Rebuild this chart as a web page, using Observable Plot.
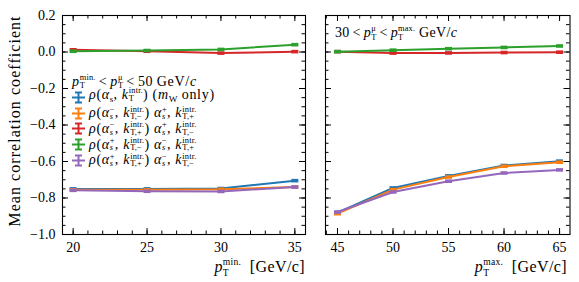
<!DOCTYPE html>
<html><head><meta charset="utf-8">
<script src="https://cdn.jsdelivr.net/npm/d3@7"></script>
<script src="https://cdn.jsdelivr.net/npm/@observablehq/plot@0.6"></script>
<style>
body{margin:0;background:#fff;}
#wrap{position:relative;width:579px;height:282px;font-family:"Liberation Serif",serif;color:#000;overflow:hidden;}
#wrap > svg{position:absolute;top:0;}
.lab{position:absolute;white-space:nowrap;font-size:14px;line-height:1;}
.ss{display:inline-flex;flex-direction:column;font-size:0.6em;line-height:0.9;vertical-align:0.7em;font-style:normal;letter-spacing:0.2px;}
.lab .ss{line-height:1.12;vertical-align:0.75em;}
.ss span{display:block;}
.sb1{font-size:0.66em;vertical-align:-0.3em;font-style:normal;letter-spacing:0;}
.rel{margin:0 3px;}
#legend{position:absolute;left:72px;top:74px;font-size:14px;letter-spacing:0.7px;line-height:15.7px;white-space:nowrap;}
#legend .row{display:flex;align-items:center;height:15.7px;}
#legend svg{margin-right:4px;flex:none;}
</style></head>
<body><div id="wrap"></div>
<script>
// ---- data ----
const ptMin = [20, 25, 30, 35];
const ptMax = [45, 50, 55, 60, 65];
const seriesNames = [
  "rho(as, kT) (mW only)",
  "rho(as-, kT-) as+, kT+",
  "rho(as-, kT+) as+, kT-",
  "rho(as+, kT-) as-, kT+",
  "rho(as+, kT+) as-, kT-"
];
const seriesColors = ["#1f77b4", "#ff7f0e", "#d62728", "#2ca02c", "#9467bd"];
// left panel: vs pT min
const minBlue   = [-0.750, -0.750, -0.748, -0.705];
const minOrange = [-0.755, -0.755, -0.752, -0.740];
const minRed    = [0.012, 0.004, -0.006, 0.002];
const minGreen  = [0.004, 0.008, 0.014, 0.040];
const minPurple = [-0.758, -0.763, -0.764, -0.740];
// right panel: vs pT max
const maxBlue   = [-0.880, -0.745, -0.679, -0.622, -0.598];
const maxOrange = [-0.886, -0.754, -0.685, -0.626, -0.604];
const maxRed    = [0.002, -0.006, -0.005, -0.003, -0.001];
const maxGreen  = [0.002, 0.010, 0.018, 0.025, 0.033];
const maxPurple = [-0.877, -0.767, -0.708, -0.663, -0.646];
const yTicks = [-1.0, -0.8, -0.6, -0.4, -0.2, 0.0, 0.2];
const xTicksMin = [20, 25, 30, 35];
const xTicksMax = [45, 50, 55, 60, 65];

// ---- helpers ----
const H = 282, MT = 15, MB = 48;
const innerH = H - MT - MB;
const yMinor = d3.range(-1.0, 0.2001, 0.05).map(v => +v.toFixed(2));
const capSymbol = {draw(ctx) { ctx.rect(-3.5, -1.8, 7, 3.6); }};

function panel({xs, vals, xDomain, xTicks, width, marginLeft, marginRight, showY}) {
  const innerW = width - marginLeft - marginRight;
  const data = vals.flatMap((v, i) => v.map((y, j) => ({x: xs[j], y, s: seriesNames[i]})));
  const xMinor = d3.range(Math.ceil(xDomain[0]), Math.floor(xDomain[1]) + 1);
  const marks = [
    Plot.axisX(xTicks, {tickSize: 0, tickPadding: 8, label: null, fontSize: 14}),
    // inward ticks, all four sides
    Plot.tickX(xTicks, {x: d => d, insetTop: innerH - 6}),
    Plot.tickX(xTicks, {x: d => d, insetBottom: innerH - 6}),
    Plot.tickX(xMinor, {x: d => d, insetTop: innerH - 3.5}),
    Plot.tickX(xMinor, {x: d => d, insetBottom: innerH - 3.5}),
    Plot.tickY(yTicks, {y: d => d, insetRight: innerW - 6}),
    Plot.tickY(yTicks, {y: d => d, insetLeft: innerW - 6}),
    Plot.tickY(yMinor, {y: d => d, insetRight: innerW - 3.5}),
    Plot.tickY(yMinor, {y: d => d, insetLeft: innerW - 3.5}),
    Plot.line(data, {x: "x", y: "y", z: "s", stroke: "s", strokeWidth: 2}),
    Plot.dot(data, {x: "x", y: "y", fill: "s", symbol: capSymbol, r: 3}),
    Plot.frame({stroke: "black", strokeWidth: 1.1})
  ];
  if (showY) marks.unshift(Plot.axisY(yTicks, {tickSize: 0, tickPadding: 7, label: null, fontSize: 14, tickFormat: d3.format(".1f")}));
  return Plot.plot({
    width, height: H, marginTop: MT, marginBottom: MB, marginLeft, marginRight,
    x: {domain: xDomain},
    y: {domain: [-1.0, 0.2], axis: showY ? undefined : null},
    color: {domain: seriesNames, range: seriesColors},
    style: {fontFamily: "Liberation Serif", fontSize: "14px", background: "transparent", color: "black"},
    marks
  });
}

const wrap = document.getElementById("wrap");
const left = panel({xs: ptMin, vals: [minBlue, minOrange, minRed, minGreen, minPurple],
  xDomain: [19.28, 35.72], xTicks: xTicksMin, width: 315, marginLeft: 62, marginRight: 10, showY: true});
left.style.left = "0px";
const right = panel({xs: ptMax, vals: [maxBlue, maxOrange, maxRed, maxGreen, maxPurple],
  xDomain: [43.92, 65.94], xTicks: xTicksMax, width: 264, marginLeft: 10, marginRight: 9.5, showY: false});
right.style.left = "315px";
wrap.appendChild(left); wrap.appendChild(right);

// ---- text (math) ----
const ss = (sub, sup) => `<span class="ss"><span>${sup}</span><span>${sub}</span></span>`;
const pT = sup => `<i>p</i>${ss("T", sup)}`;
const lt = `<span class="rel">&lt;</span>`;
function addLab(html, css) {
  const d = document.createElement("div");
  d.className = "lab"; d.innerHTML = html; Object.assign(d.style, css); wrap.appendChild(d); return d;
}
addLab("Mean correlation coefficient", {left: "15px", top: "121px", fontSize: "16px", letterSpacing: "1.05px", transform: "translate(-50%,-50%) rotate(-90deg)"});
addLab(`${pT("min.")}&nbsp; [GeV/c]`, {right: `${579 - 305}px`, top: "257px", fontSize: "16px", letterSpacing: "0.4px"});
addLab(`${pT("max.")}&nbsp; [GeV/c]`, {right: `${579 - 567}px`, top: "257px", fontSize: "16px", letterSpacing: "0.4px"});
addLab(`30${lt}${pT("μ")}${lt}${pT("max.")} GeV/<i>c</i>`, {left: "335px", top: "24px", fontSize: "14px", letterSpacing: "0.3px"});

const kT = sub => `<i>k</i>${ss(sub, "intr.")}`;
const aS = sup => sup ? `<i>α</i>${ss("<i>s</i>", sup)}` : `<i>α<span class="sb1">s</span></i>`;
const legendLabels = [
  `<i>ρ</i>(${aS("")}, ${kT("T")}) (<i>m</i><span class="sb1">W</span> only)`,
  `<i>ρ</i>(${aS("−")}, ${kT("T,−")}) ${aS("+")}, ${kT("T,+")}`,
  `<i>ρ</i>(${aS("−")}, ${kT("T,+")}) ${aS("+")}, ${kT("T,−")}`,
  `<i>ρ</i>(${aS("+")}, ${kT("T,−")}) ${aS("−")}, ${kT("T,+")}`,
  `<i>ρ</i>(${aS("+")}, ${kT("T,+")}) ${aS("−")}, ${kT("T,−")}`
];
const leg = document.createElement("div");
leg.id = "legend";
let html = `<div class="row">${pT("min.")}${lt}${pT("μ")}${lt}50&#8201;GeV/<i>c</i></div>`;
seriesColors.forEach((c, i) => {
  html += `<div class="row"><svg width="13" height="13" viewBox="0 0 13 13"><g stroke="${c}" stroke-width="2"><line x1="0" y1="6.5" x2="13" y2="6.5"/><line x1="6.5" y1="1" x2="6.5" y2="12"/><line x1="3" y1="1.5" x2="10" y2="1.5"/><line x1="3" y1="11.5" x2="10" y2="11.5"/></g></svg><span>${legendLabels[i]}</span></div>`;
});
leg.innerHTML = html;
wrap.appendChild(leg);
</script></body></html>
